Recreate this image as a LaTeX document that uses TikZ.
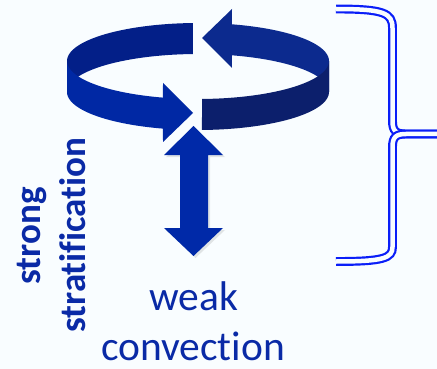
\documentclass[tikz,border=0pt]{standalone}
\usepackage{fontspec}
\setmainfont{Carlito}[Ligatures=NoCommon]
\usetikzlibrary{shadows}
\definecolor{bg}{HTML}{F9FDFF}
\definecolor{ringa}{HTML}{031F88}
\definecolor{ringaf}{HTML}{0028A4}
\definecolor{ringb}{HTML}{0C2A8E}
\definecolor{ringbf}{HTML}{0C1F6C}
\definecolor{arr}{HTML}{0029A8}
\definecolor{txt}{HTML}{0A2AA6}
\definecolor{brc}{HTML}{0A1EF8}

\begin{document}
\begin{tikzpicture}[x=1pt,y=-1pt,
    lbl/.style={text=txt,inner sep=0pt,anchor=base,font=\fontsize{41.5}{50}\selectfont},
    side/.style={text=txt,inner sep=0pt,rotate=90,anchor=base,
      font=\fontsize{37}{44}\selectfont\bfseries},
    brace/.style={draw=brc,line width=2.2pt,double=bg,double distance=4.5pt}]
  \fill[bg] (0,0) rectangle (437,369);
  \useasboundingbox (0,0) rectangle (437,369);
  \fill[ringa] plot[domain=267.8:180,samples=40] ({198+131*cos(\x)},{61+38*sin(\x)})
    -- plot[domain=180:267.8,samples=40] ({198+131*cos(\x)},{92+38*sin(\x)}) -- cycle;
  \fill[ringb] plot[domain=360:285,samples=40] ({198+131*cos(\x)},{61+38*sin(\x)})
    -- (232,9) -- (202,38) -- (232,68)
    -- plot[domain=285:360,samples=40] ({198+131*cos(\x)},{92+38*sin(\x)}) -- cycle;
  \fill[ringaf] plot[domain=180:105.5,samples=40] ({198+131*cos(\x)},{61+38*sin(\x)})
    -- (163,83) -- (193,113) -- (163,142)
    -- plot[domain=105.5:180,samples=40] ({198+131*cos(\x)},{92+38*sin(\x)}) -- cycle;
  \fill[ringbf] plot[domain=88.25:0,samples=40] ({198+131*cos(\x)},{61+38*sin(\x)})
    -- plot[domain=0:88.25,samples=40] ({198+131*cos(\x)},{92+38*sin(\x)}) -- cycle;
  \fill[arr,drop shadow={opacity=.2,shadow xshift=2pt,shadow yshift=-2pt}]
    (193.5,126) -- (223,155) -- (208,155) -- (208,228) -- (223,228) -- (193.5,256)
    -- (164,228) -- (180,228) -- (180,155) -- (164,155) -- cycle;
  \node[lbl] (weak) at (194,310) {weak};
  \node[lbl] (conv) at (193,360) {convection};
  \node[side] (strong) at (40,236) {strong};
  \node[side] (strat) at (85,235) {stratification};
  \draw[brace] (336,9) .. controls (384,9) and (392.5,13) .. (392.5,28) -- (392.5,121)
    .. controls (392.5,131) and (396,134) .. (406,134) -- (440,134);
  \draw[brace] (440,134) -- (406,134) .. controls (396,134) and (392.5,137) .. (392.5,147)
    -- (392.5,247) .. controls (392.5,258) and (384,261.5) .. (336,261.5);
\end{tikzpicture}
\end{document}
